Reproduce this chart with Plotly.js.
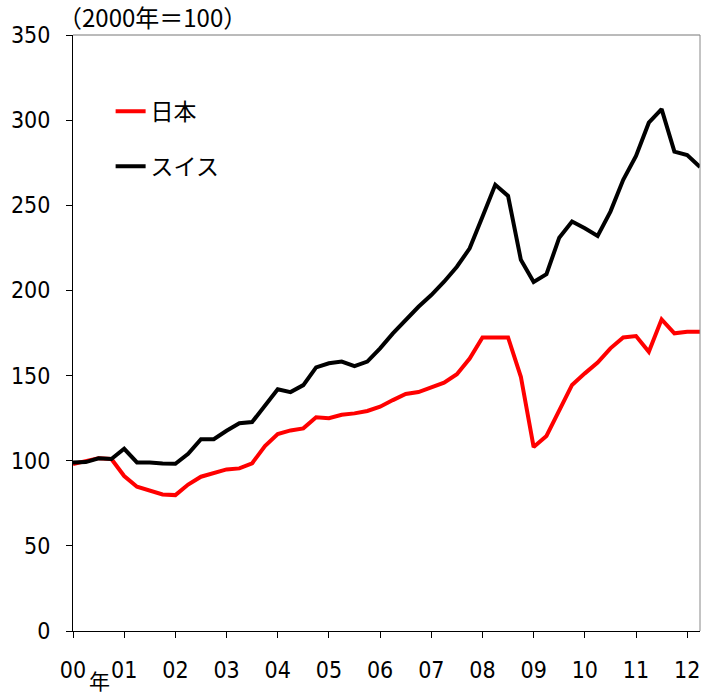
<!DOCTYPE html>
<html>
<head>
<meta charset="utf-8">
<script src="https://cdn.plot.ly/plotly-3.0.1.min.js"></script>
<style>html,body{margin:0;padding:0;background:#fff;}#chart{width:715px;height:697px;}</style>
</head>
<body>
<div id="chart"></div>
<script>
// Quarterly index, 2000Q1 .. 2012Q2 (2000 = 100)
const quarterIndex = Array.from({length: 50}, (_, i) => i);
const japan = [98, 100, 101.5, 101, 91, 84.7, 82.3, 80.2, 79.8, 86,
  90.6, 93, 94.9, 95.5, 98.5, 108.6, 115.7, 117.8, 119, 125.5,
  125, 127, 127.8, 129.2, 131.7, 135.6, 139.2, 140.3, 143, 145.8,
  150.8, 160, 172.4, 172.4, 172.4, 149.3, 108, 114.5, 130, 144.5,
  151.3, 157.6, 166, 172.4, 173.2, 164, 183, 174.8, 175.7, 175.7];
const swiss = [99, 99.2, 101.4, 101, 107, 99, 99, 98.3, 98.2, 104,
  112.6, 112.6, 117.6, 122, 122.7, 132.5, 142, 140.3, 144.4, 154.8,
  157.2, 158.2, 155.6, 158.2, 166, 174.8, 182.6, 190.4, 197.3, 205.1,
  213.9, 224.7, 243.3, 262, 255.5, 218, 205, 209.5, 231, 240.5,
  236.5, 232, 246.3, 265, 279, 298.5, 306.5, 281.5, 279.5, 272.5];
const seriesNames = ['日本', 'スイス'];
const yearTickVals = [0,1,2,3,4,5,6,7,8,9,10,11,12];
const yearTickText = ['00','01','02','03','04','05','06','07','08','09','10','11','12'];
const yTickVals = [0,50,100,150,200,250,300,350];

const xYears = quarterIndex.map(q => q / 4);
const cjk = '"Noto Sans CJK JP", "Liberation Sans", sans-serif';
const num = '"DejaVu Sans Condensed", "Liberation Sans", sans-serif';

const traces = [
  {x: xYears, y: japan, name: seriesNames[0], type: 'scatter', mode: 'lines',
   line: {color: '#ff0000', width: 4}, legendgroup: 'a'},
  {x: xYears, y: swiss, name: seriesNames[1], type: 'scatter', mode: 'lines',
   line: {color: '#000000', width: 4}, legendgroup: 'b'}
];

const layout = {
  width: 715, height: 697,
  margin: {l: 73, r: 15, t: 35, b: 66},
  paper_bgcolor: '#fff', plot_bgcolor: '#fff',
  showlegend: true,
  legend: {x: 0.06, y: 0.908, xanchor: 'left', yanchor: 'top',
    font: {family: cjk, size: 23, color: '#000'},
    traceorder: 'grouped', tracegroupgap: 22, bgcolor: 'rgba(0,0,0,0)',
    itemwidth: 30},
  xaxis: {range: [0, 12.25], tickvals: yearTickVals, ticktext: yearTickText,
    ticks: 'outside', ticklen: 6, tickcolor: '#000', showgrid: false, zeroline: false,
    showline: true, linecolor: '#000', linewidth: 1, ticklabelstandoff: 12,
    tickfont: {family: num, size: 23, color: '#000'}},
  yaxis: {range: [0, 350], tickvals: yTickVals,
    ticks: 'outside', ticklen: 6, tickcolor: '#000', showgrid: false, zeroline: false,
    showline: true, linecolor: '#000', linewidth: 1, ticklabelstandoff: 11,
    tickfont: {family: num, size: 23, color: '#000'}},
  shapes: [
    {type: 'line', xref: 'paper', yref: 'paper', x0: 0, x1: 1, y0: 1, y1: 1,
     line: {color: '#777', width: 1}},
    {type: 'line', xref: 'paper', yref: 'paper', x0: 1, x1: 1, y0: 0, y1: 1,
     line: {color: '#888', width: 1}}
  ],
  annotations: [
    {text: '（2000年＝100）', xref: 'paper', yref: 'paper', x: -0.027, y: 1,
     xanchor: 'left', yanchor: 'bottom', yshift: -1, showarrow: false,
     font: {family: cjk, size: 24, color: '#000'}},
    {text: '年', xref: 'paper', yref: 'paper', x: 0.043, y: 0,
     xanchor: 'center', yanchor: 'bottom', yshift: -66, showarrow: false,
     font: {family: cjk, size: 21, color: '#000'}}
  ]
};

Plotly.newPlot('chart', traces, layout, {staticPlot: true, displayModeBar: false});
</script>
</body>
</html>
